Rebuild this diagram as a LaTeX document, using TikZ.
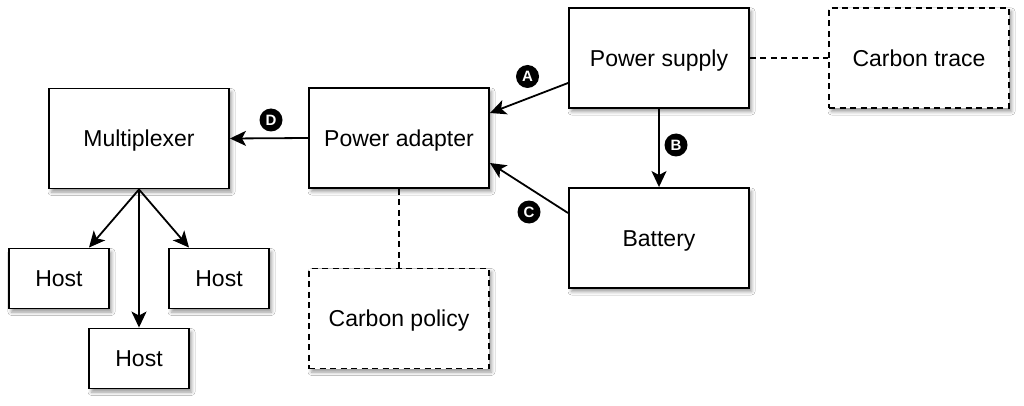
\documentclass[tikz,border=0pt]{standalone}
\usepackage{fontspec}
\setmainfont{Liberation Sans}
\usetikzlibrary{arrows.meta,shadows.blur}
\tikzset{
  box/.style={draw=black, line width=1.9pt, fill=white, minimum width=180pt, minimum height=100pt,
    inner sep=0pt, font=\fontsize{23}{27}\selectfont, text height=16.5pt, text depth=0pt,
    blur shadow={shadow xshift=2.5pt, shadow yshift=-3.5pt, shadow blur radius=3.5pt, shadow opacity=40}},
  hostbox/.style={box, minimum width=100pt, minimum height=60pt},
  dbox/.style={box, dash pattern=on 6pt off 4.5pt},
  conn/.style={line width=1.8pt, -{Stealth[length=16pt,width=15pt,inset=4pt]}},
  dconn/.style={line width=1.8pt, dash pattern=on 6pt off 4.5pt},
  badge/.style={circle, fill=black, text=white, minimum size=23pt, inner sep=0pt,
    text height=10.5pt, text depth=0pt,
    font=\fontsize{15}{15}\selectfont\bfseries}
}
\begin{document}
\begin{tikzpicture}[x=1pt,y=-1pt]
\useasboundingbox (0,0) rectangle (1024,406);
\fill[white] (0,0) rectangle (1024,406);
\node[box] (mux) at (139,138.5) {Multiplexer};
\node[box] (adapter) at (399,138) {Power adapter};
\node[box] (supply) at (659,58) {Power supply};
\node[dbox] (trace) at (919,58) {Carbon trace};
\node[box] (battery) at (659,238) {Battery};
\node[dbox] (policy) at (399,318.5) {Carbon policy};
\node[hostbox] (h1) at (59,278.5) {Host};
\node[hostbox] (h2) at (219,278.5) {Host};
\node[hostbox] (h3) at (139,358.5) {Host};

\draw[conn] ([yshift=-25pt]supply.west) -- ([yshift=25pt]adapter.east);
\draw[conn] ([yshift=25pt]battery.west) -- ([yshift=-25pt]adapter.east);
\draw[conn] (supply.south) -- (battery.north);
\draw[conn] (adapter.west) -- (mux.east);
\draw[conn] (mux.south) -- ([xshift=30pt]h1.north);
\draw[conn] (mux.south) -- ([xshift=-30pt]h2.north);
\draw[conn] (mux.south) -- (h3.north);
\draw[dconn] (supply.east) -- (trace.west);
\draw[dconn] (adapter.south) -- (policy.north);

\node[badge] (la) at (527.5,76.5) {A};
\node[badge] (lb) at (676,145) {B};
\node[badge] (lc) at (529,212) {C};
\node[badge] (ld) at (271,120) {D};
\end{tikzpicture}
\end{document}
